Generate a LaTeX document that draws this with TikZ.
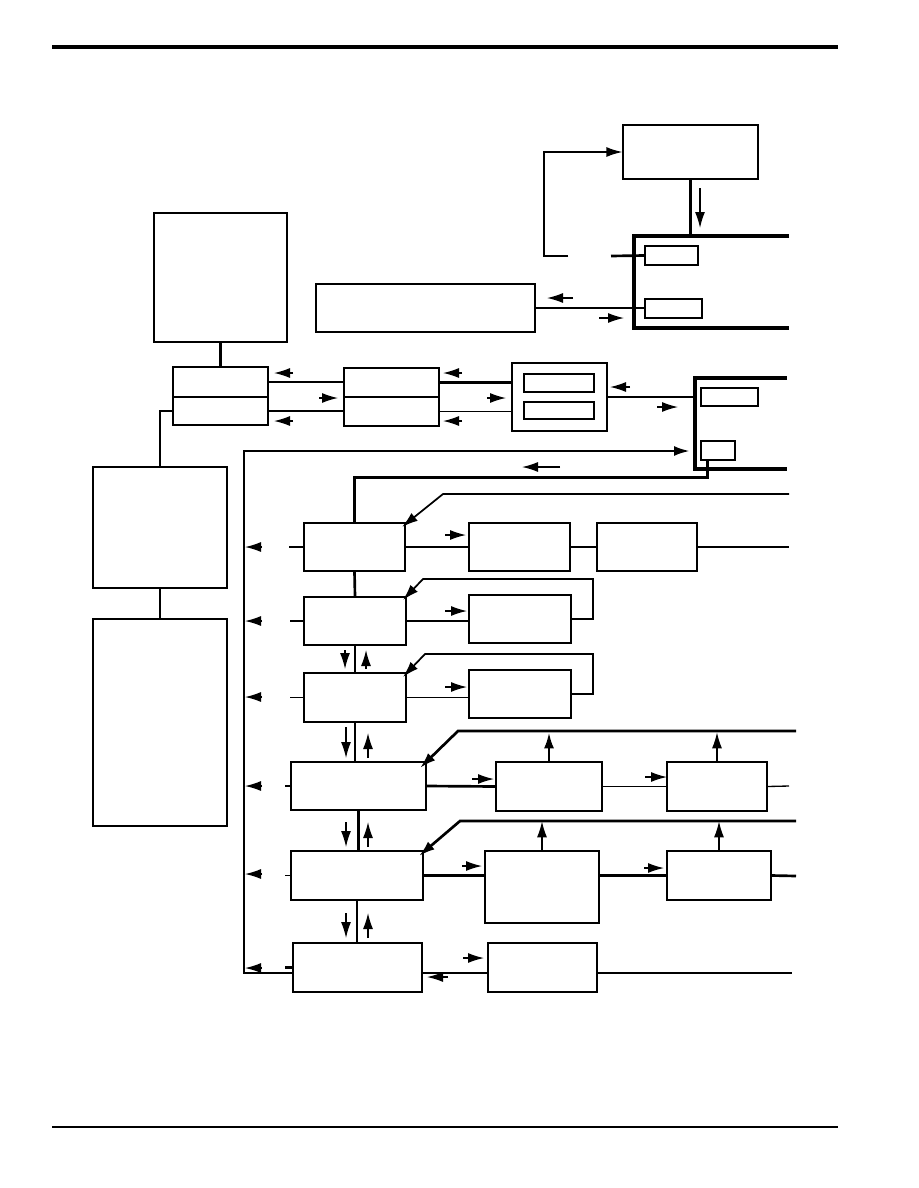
\documentclass[tikz,border=0pt]{standalone}
\usetikzlibrary{arrows.meta,fit,calc}
\tikzset{
  box/.style={draw, line width=1pt, inner sep=0pt},
  ln/.style={line width=1pt},
  tk/.style={line width=2pt},
  brk/.style={line width=2.8pt},
  fbk/.style={line width=1.3pt},
  tip/.style={-{Latex[length=12pt,width=7.5pt]}},
  arr/.style={line width=1pt,-{Latex[length=12pt,width=7.5pt]}}
}
\newcommand{\mkbox}[5]{\node[box,fit={(#2,#3)(#4,#5)}] (#1) {};}
\begin{document}
\begin{tikzpicture}[x=0.75pt,y=-0.75pt]
\useasboundingbox (0,0) rectangle (918,1188);
% header and footer rules
\draw[line width=2.6pt] (52,47) -- (838,47);
\draw[line width=1.3pt] (52,1127) -- (838,1127);

% boxes
\mkbox{A}{623}{125}{758}{179}
\mkbox{B1}{645}{246}{698}{265}
\mkbox{B2}{645}{299}{702}{318}
\mkbox{C}{316}{284}{535}{332}
\mkbox{D}{154}{213}{287}{342}
\mkbox{Et}{173}{367}{268}{397}
\mkbox{Eb}{173}{397}{268}{425}
\mkbox{F}{93}{467}{227}{588}
\mkbox{G}{93}{619}{227}{826}
\mkbox{Kt}{344}{368}{439}{397}
\mkbox{Kb}{344}{397}{439}{426}
\mkbox{J}{512}{363}{607}{431}
\mkbox{J1}{524}{374}{594}{392}
\mkbox{J2}{524}{402}{594}{419}
\mkbox{H1}{701}{388}{758}{406}
\mkbox{H2}{701}{441}{735}{460}
\mkbox{I}{304}{523}{405}{571}
\mkbox{I2}{469}{523}{570}{571}
\mkbox{I3}{597}{523}{697}{571}
\mkbox{L}{304}{597}{406}{645}
\mkbox{L2}{469}{595}{571}{643}
\mkbox{M}{304}{673}{406}{722}
\mkbox{M2}{469}{670}{571}{718}
\mkbox{N}{291}{762}{426}{810}
\mkbox{N2}{496}{762}{602}{811}
\mkbox{N3}{667}{762}{767}{811}
\mkbox{O}{291}{851}{423}{900}
\mkbox{O2}{485}{851}{599}{923}
\mkbox{O3}{667}{851}{771}{900}
\mkbox{P}{293}{943}{422}{992}
\mkbox{P2}{488}{943}{597}{992}

% open brackets
\draw[brk] (789,236) -- (634,236) -- (634,328) -- (789,328);
\draw[brk] (787,378) -- (695,378) -- (695,469) -- (787,469);

% top right group
\draw[tk] (A.south) -- (A.south |- 0,236);
\draw[arr] (700,188) -- (700,228);
\draw[tk] (B1.west) -- (611,256);
\draw[tk] (568,256) -- (544,256);
\draw[ln,tip] (568,256) -- (544,256) |- (A.west);
\draw[tk] (C.east) -- (C.east -| B2.west);
\draw[arr] (573,298) -- (547,298);
\draw[arr] (599,318) -- (624,318);

% left column
\draw[tk] (D.south) -- (D.south |- Et.north);
\draw[tk] (Eb.west) -| (F.north);
\draw[tk] (F.south) -- (F.south |- G.north);

% E - K - J - H
\draw[tk] (Et.east) -- (Et.east -| Kt.west);
\draw[ln] (Eb.east) -- (Eb.east -| Kb.west);
\draw[arr] (293,373) -- (274,373);
\draw[arr] (319,398) -- (338,398);
\draw[arr] (293,421) -- (274,421);
\draw[tk] (Kt.east) -- (Kt.east -| J.west);
\draw[ln] (Kb.east) -- (Kb.east -| J.west);
\draw[arr] (462,373) -- (443,373);
\draw[arr] (487,398) -- (506,398);
\draw[arr] (462,421) -- (443,421);
\draw[ln] (J.east) -- (695,397);
\draw[arr] (630,387) -- (610,387);
\draw[arr] (657,407) -- (678,407);

% bus
\draw[tk,tip] (P.west |- 0,973) -| (244,451) -- (690,451);
\foreach \yy in {547,621,697,786,874,968} \draw[arr] (262,\yy) -- (245,\yy);

% H2 to I
\draw[tk] ($(H2.south west)+(7,0)$) |- ($(I.north)+(0,-45)$) -- (I.north);
\draw[arr] (560,467) -- (522,467);

% row I
\draw[fbk,tip] (789,494) -- (443,494) -- (402,527);
\draw[ln] (I.west) -- ++(-14,0);
\draw[ln] (I.east) -- (I2.west);
\draw[ln] (I2.east) -- (I3.west);
\draw[ln] (I3.east) -- (789,547);
\draw[arr] (445,535) -- (466,535);

% row L
\draw[tk] (I.south) -- (L.north);
\draw[ln] (L.west) -- ++(-13,0);
\draw[ln] (L.east) -- (L.east -| L2.west);
\draw[arr] (445,611) -- (467,611);
\draw[fbk,tip] (L2.east) -| (593,579) -- (423,579) -- (403,600);

% row M
\draw[tk] (L.south) -- (M.north);
\draw[arr] (345,650) -- (345,669);
\draw[arr] (366,669) -- (366,650);
\draw[ln] (M.west) -- ++(-13,0);
\draw[ln] (M.east) -- (M.east -| M2.west);
\draw[arr] (445,687) -- (467,687);
\draw[fbk,tip] (M2.east) -| (593,654) -- (425,654) -- (403,677);

% row N
\draw[tk] (M.south) -- (M.south |- N.north);
\draw[arr] (346,727) -- (346,758);
\draw[arr] (368,758) -- (368,733);
\draw[ln] (N.west) -- ++(-5,0);
\draw[tk] (N.east) -- (N2.west);
\draw[ln] (N2.east) -- (N3.west);
\draw[ln] (N3.east) -- (789,786);
\draw[arr] (472,779) -- (494,779);
\draw[arr] (645,777) -- (667,777);
\draw[tk,tip] (N2.north) -- ++(0,-29);
\draw[ln,tip] (N3.north) -- ++(0,-29);
\draw[tk,tip] (796,731) -- (458,731) -- (420,768);

% row O
\draw[tk] (N.south) -- (N.south |- O.north);
\draw[arr] (346,822) -- (346,847);
\draw[arr] (368,847) -- (368,822);
\draw[ln] (O.west) -- ++(-5,0);
\draw[tk] (O.east) -- (O.east -| O2.west);
\draw[tk] (O.east -| O2.east) -- (O3.west);
\draw[tk] (O3.east) -- (796,876);
\draw[arr] (462,866) -- (482,866);
\draw[arr] (644,868) -- (664,868);
\draw[ln,tip] (O2.north) -- ++(0,-29);
\draw[ln,tip] (O3.north) -- ++(0,-29);
\draw[tk,tip] (796,821) -- (460,821) -- (419,856);

% row P
\draw[tk] (O.south) -- (O.south |- P.north);
\draw[arr] (346,913) -- (346,938);
\draw[arr] (368,938) -- (368,913);
\draw[tk] (P.west) -- ++(-7,0);
\draw[ln] (P.east |- 0,973) -- (P2.west |- 0,973);
\draw[ln] (P2.east |- 0,973) -- (792,973);
\draw[arr] (448,977) -- (427,977);
\draw[arr] (463,958) -- (484,958);
\end{tikzpicture}
\end{document}
